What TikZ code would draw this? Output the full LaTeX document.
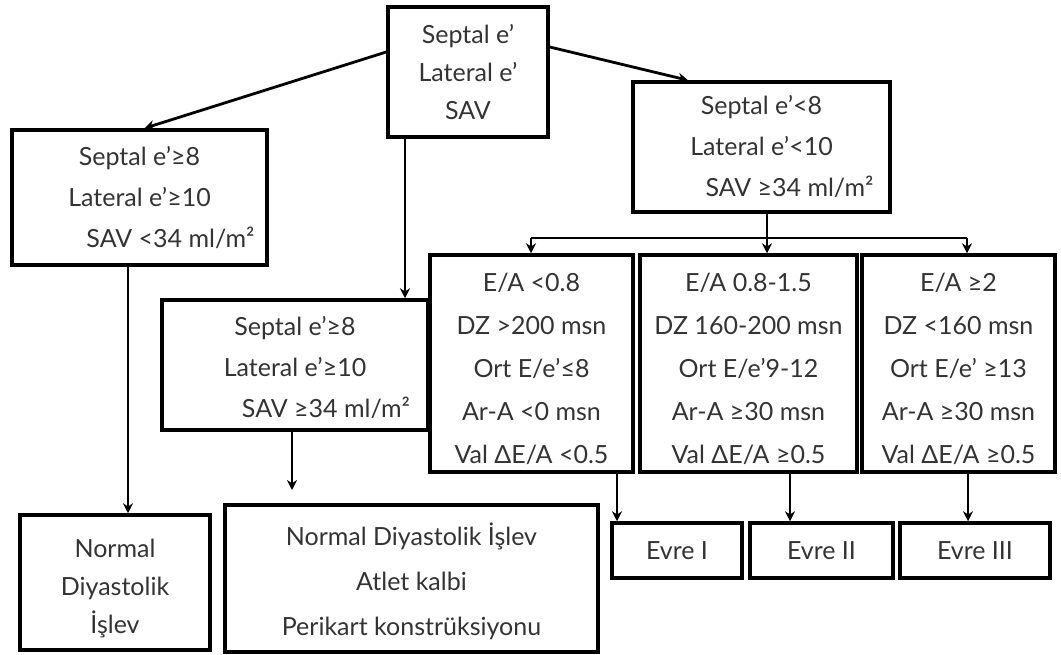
\documentclass[tikz,border=0pt]{standalone}
\usepackage{fontspec}
\setmainfont{Lato}
\usetikzlibrary{arrows.meta}
\definecolor{txt}{HTML}{333333}
\newcommand\upstrut[1]{\rule{0pt}{#1}}
\begin{document}
\begin{tikzpicture}[x=1pt,y=-1pt,
  box/.style={draw, line width=3.5pt, rectangle, inner sep=0pt, align=center, text=txt},
  f38/.style={font=\fontsize{25}{38}\selectfont},
  f41/.style={font=\fontsize{25}{41}\selectfont},
  f43/.style={font=\fontsize{25}{43}\selectfont},
  f45/.style={font=\fontsize{25}{45}\selectfont},
  ln/.style={line width=2.8pt},
  conn/.style={line width=2.8pt, -{Stealth[length=10pt,width=10pt]}}]
\useasboundingbox (0,0) rectangle (1061,655);
\node[box,f38,minimum width=160pt,minimum height=130pt] (top) at (468,72) {Septal e'\\Lateral e'\\SAV};
\node[box,f41,minimum width=255pt,minimum height=135pt] (L1) at (139.5,197.5) {Septal e'≥8\\Lateral e'≥10\\\hspace*{62pt}SAV <34 ml/m²};
\node[box,f41,minimum width=257pt,minimum height=130pt] (R1) at (761.5,147) {Septal e'<8\\Lateral e'<10\\\hspace*{56pt}SAV ≥34 ml/m²};
\node[box,f41,minimum width=266pt,minimum height=130pt] (M) at (295,365) {\upstrut{25pt}Septal e'≥8\\Lateral e'≥10\\\hspace*{62pt}SAV ≥34 ml/m²};
\node[box,f43,minimum width=203pt,minimum height=217pt] (B1) at (531.5,363.5) {\upstrut{29pt}E/A <0.8\\DZ >200 msn\\Ort E/e'≤8\\Ar-A <0 msn\\Val ΔE/A <0.5};
\node[box,f43,minimum width=217pt,minimum height=217pt] (B2) at (748.5,363.5) {\upstrut{29pt}E/A 0.8-1.5\\DZ 160-200 msn\\Ort E/e'9-12\\Ar-A ≥30 msn\\Val ΔE/A ≥0.5};
\node[box,f43,minimum width=193pt,minimum height=217pt] (B3) at (958.5,363.5) {\upstrut{29pt}E/A ≥2\\DZ <160 msn\\Ort E/e' ≥13\\Ar-A ≥30 msn\\Val ΔE/A ≥0.5};
\node[box,f38,minimum width=130pt,minimum height=55pt] (E1) at (677,550.5) {Evre I};
\node[box,f38,minimum width=143pt,minimum height=55pt] (E2) at (821.5,550.5) {Evre II};
\node[box,f38,minimum width=150pt,minimum height=55pt] (E3) at (975,550.5) {Evre III};
\node[box,f38,minimum width=190pt,minimum height=135pt] (NDI) at (115,582.5) {\upstrut{31pt}Normal\\Diyastolik\\İşlev};
\node[box,f45,minimum width=373pt,minimum height=147pt] (Big) at (411.5,578.5) {\upstrut{29pt}Normal Diyastolik İşlev\\Atlet kalbi\\Perikart konstrüksiyonu};
\coordinate (mEnd) at (292,490);
\coordinate (hub) at (767,238);
\coordinate (hl) at (531,238);
\coordinate (hr) at (967,238);
\draw[conn] ([yshift=20pt]top.west) -- ([xshift=5pt]L1.north);
\draw[conn] ([yshift=25pt]top.east) -- ([xshift=-73.5pt]R1.north);
\draw[conn] ([xshift=-63pt]top.south) -- ([xshift=110pt]M.north);
\draw[conn] ([xshift=-11.5pt]L1.south) -- ([xshift=13pt]NDI.north);
\draw[conn] ([xshift=-3pt]M.south) -- (mEnd);
\draw[ln] ([xshift=5.5pt]R1.south) -- (hub);
\draw[ln] (hl) -- (hr);
\draw[conn] (hl) -- (hl |- B1.north);
\draw[conn] (hub) -- (hub |- B2.north);
\draw[conn] (hr) -- (hr |- B3.north);
\draw[conn] ([xshift=85.5pt]B1.south) -- ([xshift=-60pt]E1.north);
\draw[conn] ([xshift=41.5pt]B2.south) -- ([xshift=-31.5pt]E2.north);
\draw[conn] ([xshift=9.5pt]B3.south) -- ([xshift=-7pt]E3.north);
\end{tikzpicture}
\end{document}
